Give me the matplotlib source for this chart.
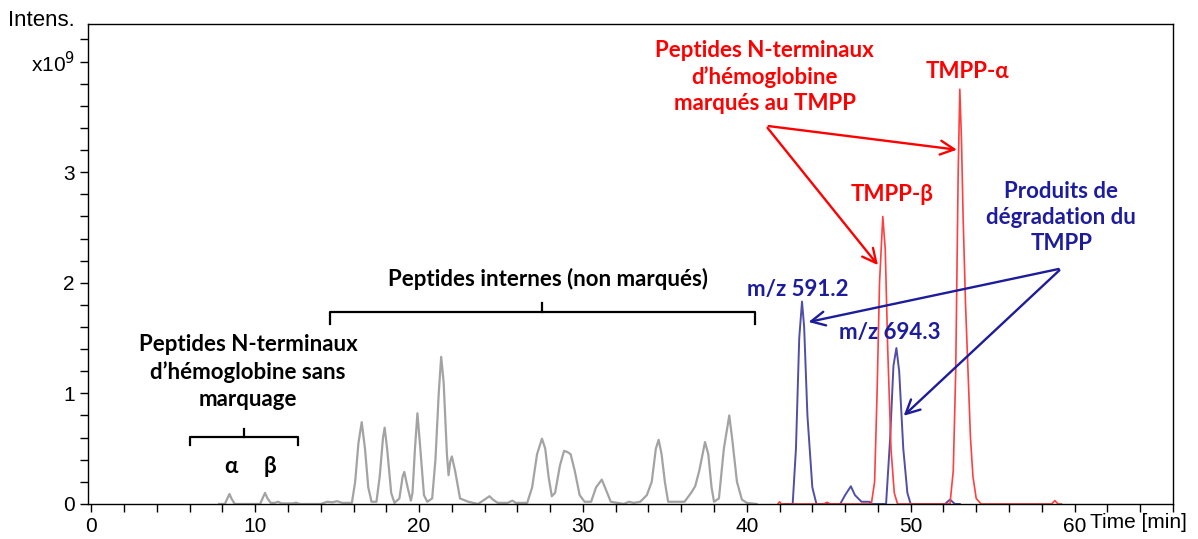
import matplotlib.pyplot as plt
from matplotlib.ticker import MultipleLocator, FixedLocator

# gray trace: unlabelled peptides (time in min, intensity x1e9)
gray_t = [7.8, 8.15, 8.3, 8.43, 8.55, 8.75, 10.3, 10.45, 10.6, 10.75, 10.95, 11.2, 11.4, 11.6,
          12.3, 12.5, 12.7, 14.0, 14.4, 14.7, 15.0, 15.3, 15.9, 16.1, 16.3, 16.5, 16.7, 16.9,
          17.1, 17.4, 17.6, 17.8, 17.9, 18.05, 18.3, 18.5, 18.8, 19.0, 19.1, 19.3, 19.5, 19.6,
          19.75, 19.9, 20.05, 20.3, 20.5, 20.8, 21.0, 21.2, 21.35, 21.5, 21.7, 21.8, 21.9, 22.0,
          22.2, 22.5, 23.0, 23.6, 24.1, 24.3, 24.5, 24.8, 25.4, 25.7, 25.9, 26.6, 26.9, 27.2,
          27.5, 27.7, 27.9, 28.1, 28.3, 28.6, 28.85, 29.05, 29.25, 29.5, 29.8, 30.1, 30.5, 30.8,
          31.15, 31.4, 31.7, 32.1, 32.5, 32.8, 33.1, 33.5, 33.9, 34.2, 34.45, 34.62, 34.8, 35.0,
          35.2, 35.6, 36.2, 36.6, 36.85, 37.1, 37.45, 37.65, 37.85, 38.0, 38.3, 38.6, 38.93,
          39.1, 39.4, 39.7, 40.0, 40.6]
gray_i = [0.0, 0.0, 0.05, 0.09, 0.05, 0.0, 0.0, 0.05, 0.10, 0.05, 0.01, 0.01, 0.02, 0.005,
          0.005, 0.012, 0.0, 0.0, 0.02, 0.015, 0.025, 0.01, 0.01, 0.2, 0.55, 0.74, 0.5, 0.15,
          0.02, 0.02, 0.25, 0.6, 0.69, 0.5, 0.1, 0.01, 0.05, 0.25, 0.29, 0.15, 0.03, 0.1,
          0.5, 0.82, 0.55, 0.08, 0.02, 0.05, 0.4, 1.0, 1.33, 1.1, 0.45, 0.26, 0.38, 0.43,
          0.3, 0.05, 0.02, 0.0, 0.05, 0.07, 0.04, 0.01, 0.01, 0.03, 0.01, 0.01, 0.15, 0.45,
          0.59, 0.5, 0.25, 0.07, 0.1, 0.35, 0.48, 0.47, 0.45, 0.3, 0.08, 0.02, 0.02, 0.15,
          0.22, 0.13, 0.02, 0.01, 0.0, 0.02, 0.01, 0.02, 0.08, 0.2, 0.5, 0.58, 0.45, 0.2,
          0.02, 0.02, 0.02, 0.1, 0.16, 0.3, 0.56, 0.45, 0.15, 0.02, 0.05, 0.5, 0.8,
          0.6, 0.2, 0.04, 0.01, 0.0]

# blue trace: TMPP degradation products
blue_t = [42.3, 42.8, 43.0, 43.2, 43.37, 43.5, 43.7, 44.0, 44.25, 45.7, 46.0, 46.35, 46.6,
          47.0, 47.5, 47.6, 48.5, 48.75, 48.95, 49.13, 49.3, 49.55, 49.8, 50.0, 52.1, 52.4,
          52.7, 53.0]
blue_i = [0.0, 0.0, 0.5, 1.5, 1.83, 1.6, 0.8, 0.15, 0.0, 0.0, 0.08, 0.16, 0.08,
          0.02, 0.02, 0.0, 0.0, 0.6, 1.25, 1.41, 1.2, 0.5, 0.1, 0.0, 0.0, 0.04,
          0.0, 0.0]

# red trace: TMPP-labelled N-terminal peptides
red_t = [41.9, 42.0, 42.1, 44.7, 44.9, 45.1, 47.6, 47.8, 47.95, 48.1, 48.3, 48.45, 48.6,
         48.8, 49.0, 49.2, 52.4, 52.6, 52.75, 52.9, 53.0, 53.1, 53.2, 53.35, 53.5, 53.65,
         53.8, 54.0, 54.3, 58.6, 58.8, 59.0, 59.2]
red_i = [0.0, 0.02, 0.0, 0.0, 0.015, 0.0, 0.0, 0.2, 1.0, 2.0, 2.6, 2.3, 1.4,
         0.5, 0.1, 0.0, 0.0, 0.3, 1.2, 3.0, 3.75, 3.3, 2.6, 1.8, 1.2, 0.6,
         0.25, 0.05, 0.0, 0.0, 0.03, 0.0, 0.0]

x_ticks = [0, 10, 20, 30, 40, 50, 60]
y_ticks = [0, 1, 2, 3]

RED = '#ff0000'
NAVY = '#1c1c9c'
BOLD = 'Lato'
FS = 16

fig = plt.figure(figsize=(11.98, 5.39), dpi=100)
ax = fig.add_axes([0.0735, 0.065, 0.9055, 0.8905])

ax.plot(gray_t, gray_i, color='#a3a3a3', lw=1.6)
ax.plot(blue_t, blue_i, color='#4f4fa6', lw=1.4)
ax.plot(red_t, red_i, color='#ff4040', lw=1.2)

ax.set_xlim(-0.2, 66)
ax.set_ylim(0, 4.34)
ax.xaxis.set_major_locator(FixedLocator(x_ticks))
ax.xaxis.set_minor_locator(MultipleLocator(2))
ax.yaxis.set_major_locator(FixedLocator(y_ticks + [4]))
ax.yaxis.set_minor_locator(MultipleLocator(0.2))
ax.set_xticklabels([str(v) for v in x_ticks])
ax.set_yticklabels([str(v) for v in y_ticks] + ['x10$^9$'])
ax.tick_params(which='both', direction='out', length=6, width=1, labelsize=15)
for lab in ax.get_xticklabels() + ax.get_yticklabels():
    lab.set_fontfamily('Liberation Sans')
for s in ax.spines.values():
    s.set_linewidth(1)

fig.text(1090 / 1198, 1 - 523 / 539, 'Time [min]', fontsize=15, family='Liberation Sans',
         ha='left', va='center')
fig.text(75 / 1198, 1 - 20 / 539, 'Intens.', fontsize=16, family='Liberation Sans',
         ha='right', va='center')

# black annotations
ax.text(9.57, 1.19, 'Peptides N-terminaux\nd\u2019hémoglobine sans\nmarquage', ha='center',
        va='center', fontsize=FS, fontweight='bold', family=BOLD, linespacing=1.35)
ax.text(8.54, 0.34, '\u03b1', ha='center', va='center', fontsize=FS, fontweight='bold', family=BOLD)
ax.text(10.9, 0.34, '\u03b2', ha='center', va='center', fontsize=FS, fontweight='bold', family=BOLD)
ax.text(27.87, 2.03, 'Peptides internes (non marqués)', ha='center', va='center',
        fontsize=FS, fontweight='bold', family=BOLD)


def bracket(x0, x1, y, drop, rise):
    xm = (x0 + x1) / 2
    ax.plot([x0, x0, x1, x1], [y - drop, y, y, y - drop], color='black', lw=1.6)
    ax.plot([xm, xm], [y, y + rise], color='black', lw=1.6)


bracket(6.04, 12.62, 0.61, 0.08, 0.07)
bracket(14.57, 40.49, 1.74, 0.11, 0.08)

# red annotations
ax.text(41.1, 3.86, 'Peptides N-terminaux\nd\u2019hémoglobine\nmarqués au TMPP', ha='center',
        va='center', fontsize=FS, fontweight='bold', family=BOLD, color=RED, linespacing=1.27)
ax.text(53.48, 3.91, 'TMPP-\u03b1', ha='center', va='center', fontsize=FS,
        fontweight='bold', family=BOLD, color=RED)
ax.text(48.84, 2.80, 'TMPP-\u03b2', ha='center', va='center', fontsize=FS,
        fontweight='bold', family=BOLD, color=RED)
for tx, ty in [(48.11, 2.14), (52.99, 3.20)]:
    ax.annotate('', xy=(tx, ty), xytext=(41.16, 3.42),
                arrowprops=dict(arrowstyle='->,head_length=1.0,head_width=0.5', color=RED, lw=1.7))

# blue annotations
ax.text(59.2, 2.59, 'Produits de\ndégradation du\nTMPP', ha='center', va='center',
        fontsize=FS, fontweight='bold', family=BOLD, color=NAVY, linespacing=1.3)
ax.text(43.1, 1.94, 'm/z 591.2', ha='center', va='center', fontsize=FS,
        fontweight='bold', family=BOLD, color=NAVY)
ax.text(48.72, 1.55, 'm/z 694.3', ha='center', va='center', fontsize=FS,
        fontweight='bold', family=BOLD, color=NAVY)
for tx, ty in [(43.6, 1.64), (49.45, 0.78)]:
    ax.annotate('', xy=(tx, ty), xytext=(59.2, 2.13),
                arrowprops=dict(arrowstyle='->,head_length=1.0,head_width=0.5', color=NAVY, lw=1.7))

fig.savefig('out.png', dpi=100)
